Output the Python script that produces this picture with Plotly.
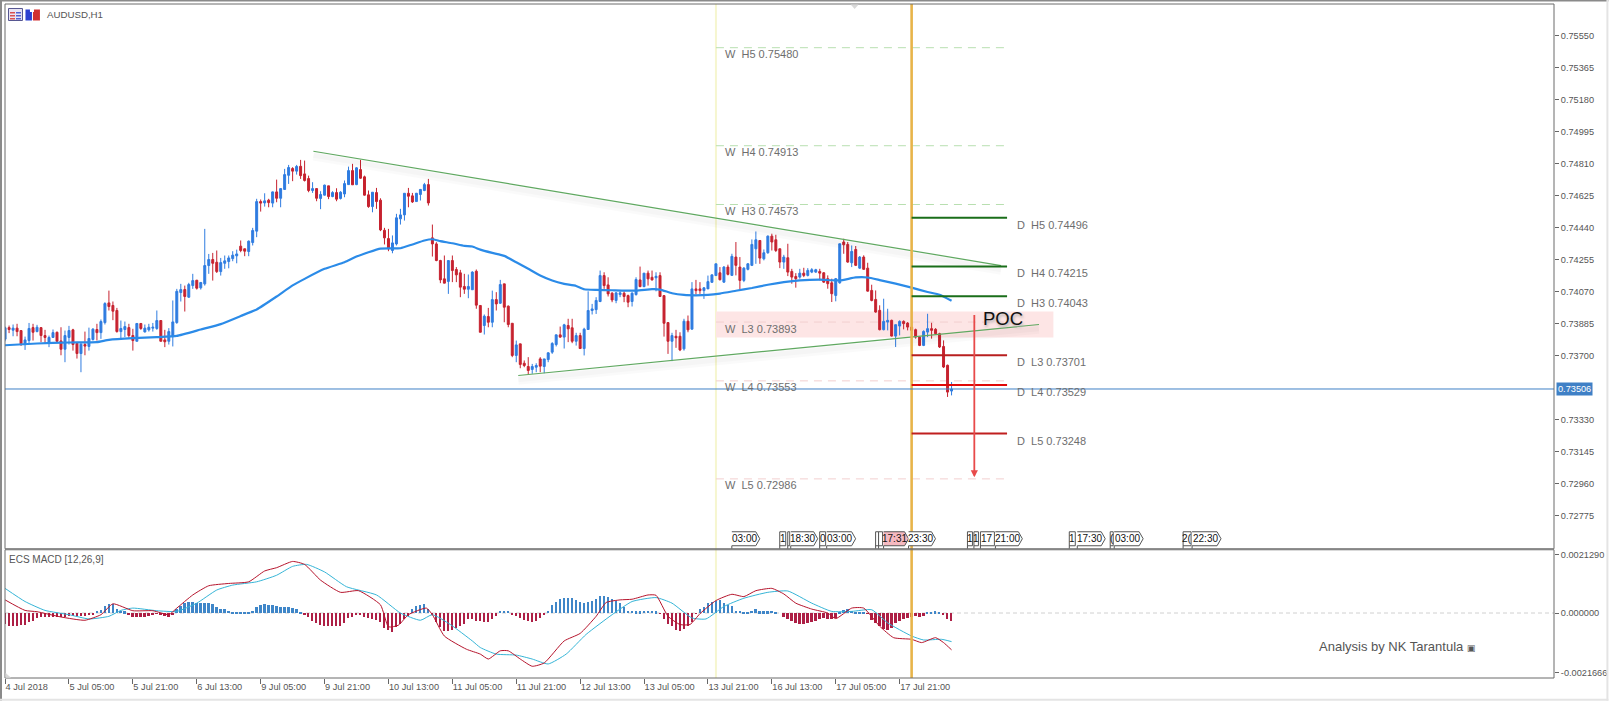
import plotly.graph_objects as go

W, H = 1611, 701
PL, PR, PT, PB = 5.0, 1556.5, 4.0, 678.3
SPLIT_A, SPLIT_B = 549.0, 550.0

tick_idx = [0, 16, 32, 48, 64, 80, 96, 112, 128, 144, 160, 176, 192, 208, 224]
tick_labels = ["4 Jul 2018", "5 Jul 05:00", "5 Jul 21:00", "6 Jul 13:00", "9 Jul 05:00", "9 Jul 21:00",
               "10 Jul 13:00", "11 Jul 05:00", "11 Jul 21:00", "12 Jul 13:00", "13 Jul 05:00",
               "13 Jul 21:00", "16 Jul 13:00", "17 Jul 05:00", "17 Jul 21:00"]
price_ticks = ["0.75550", "0.75365", "0.75180", "0.74995", "0.74810", "0.74625", "0.74440", "0.74255",
               "0.74070", "0.73885", "0.73700", "0.73330", "0.73145", "0.72960", "0.72775"]
last_price = 0.73506

direction = ("BRBRRBBRBR" "RBBRRBBRRB" "RBBRBBRRRB" "BRRBRBBBBR" "RBBBBRBBRB" "BBRRBBBBBR"
             "RBBBRBRBRB" "BBRBRRRBRB" "BRBRBBBRBR" "RRBRRRRBBB" "BRRBBBRRRR" "RBRRRRBBRR"
             "BRBRBRRRBR" "RRBBRBBBBR" "BRRBRBBBBB" "RRRBBRRBBR" "BRRBRRRBRR" "BRBRRBBBBR"
             "BRBRRBBBBR" "BBRRRBRRRB" "RBBBRRRRBB" "RRBRBRRRRR" "BBRBBRRRRR" "BBRRRRRB")
high_pts = [
73867,73873,73879,73883,73844,73809,73888,73883,73877,73861,
73848,73815,73850,73838,73863,73844,73871,73854,73777,73777,
73838,73861,73858,73883,73908,74008,74075,74012,73975,73902,
73896,73883,73854,73886,73886,73879,73883,73888,73960,73902,
73848,73858,74018,74085,74114,74104,74120,74172,74137,74125,
74432,74287,74293,74307,74264,74278,74278,74303,74312,74365,
74317,74365,74438,74606,74602,74638,74606,74648,74717,74667,
74779,74802,74789,74802,74831,74827,74740,74702,74667,74650,
74688,74681,74650,74667,74650,74712,74792,74808,74789,74831,
74740,74654,74644,74669,74609,74438,74432,74394,74519,74548,
74638,74669,74640,74640,74663,74698,74721,74457,74355,74253,
74278,74249,74278,74211,74195,74172,74168,74187,74197,73989,
73937,73975,74075,74066,74137,74114,73989,73886,73786,73767,
73671,73690,73651,73655,73690,73680,73719,73777,73821,73867,
73883,73912,73912,73831,73831,73860,74071,73998,74037,74191,
74181,74152,74066,74066,74071,74071,74052,74066,74152,74214,
74176,74191,74191,74181,74181,74046,73890,73831,73848,73834,
73912,73931,74124,74137,74124,74095,74162,74168,74230,74211,
74217,74225,74288,74356,74269,74211,74234,74371,74417,74365,
74313,74394,74404,74398,74317,74282,74346,74201,74176,74201,
74207,74205,74205,74201,74201,74182,74163,74144,74148,74346,
74375,74356,74336,74333,74275,74279,74236,74109,74076,73990,
74028,73970,73907,73878,73903,73903,73893,73903,73855,73810,
73845,73941,73889,73858,73831,73787,73647,73546]
body_top_pts = [
73860,73861,73858,73858,73844,73790,73856,73861,73863,73861,
73815,73804,73832,73834,73784,73815,73844,73848,73769,73765,
73763,73798,73852,73850,73896,74000,74004,73989,73960,73856,
73867,73861,73815,73885,73885,73858,73863,73863,73902,73902,
73790,73838,73894,74071,74081,74081,74110,74133,74135,74122,
74220,74255,74255,74239,74237,74247,74264,74280,74287,74332,
74317,74361,74423,74590,74590,74594,74598,74646,74646,74665,
74746,74787,74781,74793,74794,74750,74723,74665,74665,74631,
74685,74681,74642,74642,74644,74694,74769,74769,74785,74775,
74733,74629,74644,74642,74598,74424,74376,74351,74496,74513,
74638,74638,74623,74638,74660,74688,74688,74380,74345,74249,
74143,74249,74249,74197,74178,74099,74099,74182,74187,73989,
73927,73925,74023,74023,74110,74114,73985,73886,73761,73767,
73655,73636,73636,73642,73680,73680,73715,73769,73819,73819,
73877,73873,73860,73815,73815,73852,73960,73969,74018,74162,
74162,74108,74060,74062,74062,74060,74046,74060,74139,74137,
74176,74176,74152,74158,74162,74046,73890,73815,73811,73811,
73898,73898,74085,74085,74085,74091,74127,74166,74230,74178,
74211,74211,74273,74269,74211,74205,74230,74342,74369,74365,
74294,74390,74390,74369,74317,74269,74265,74186,74157,74176,
74176,74192,74196,74196,74186,74178,74144,74120,74144,74346,
74356,74342,74302,74313,74269,74269,74205,74076,74024,73961,
73897,73903,73903,73878,73897,73897,73887,73864,73849,73806,
73839,73855,73855,73851,73826,73752,73643,73506]
body_bot_pts = [
73794,73850,73846,73838,73767,73763,73786,73834,73838,73815,
73804,73775,73804,73782,73736,73736,73804,73763,73711,73711,
73754,73752,73792,73832,73832,73890,73983,73956,73838,73838,
73850,73815,73786,73782,73856,73836,73848,73858,73856,73782,
73779,73782,73809,73890,74064,74041,74037,74104,74089,74091,
74114,74220,74233,74185,74185,74233,74243,74260,74276,74307,
74303,74301,74353,74419,74581,74582,74584,74581,74609,74609,
74660,74742,74766,74766,74740,74712,74654,74654,74609,74608,
74627,74619,74619,74604,74608,74634,74688,74687,74688,74725,
74627,74561,74561,74590,74426,74380,74317,74307,74345,74490,
74513,74621,74588,74590,74631,74654,74582,74345,74249,74137,
74118,74128,74191,74166,74095,74083,74083,74080,73991,73834,
73873,73892,73892,73998,74002,73979,73879,73700,73700,73648,
73642,73613,73619,73632,73638,73636,73676,73719,73763,73806,
73806,73854,73782,73782,73740,73740,73850,73960,73965,74012,
74104,74056,74021,74018,74052,74041,74008,74012,74052,74098,
74098,74143,74137,74149,74041,73886,73782,73782,73802,73732,
73738,73848,73852,74075,74075,74075,74085,74123,74162,74138,
74124,74169,74163,74221,74134,74134,74198,74221,74317,74263,
74259,74294,74356,74307,74240,74240,74182,74153,74144,74153,
74163,74163,74182,74182,74176,74124,74115,74057,74047,74120,
74340,74240,74236,74221,74205,74198,74072,74018,73951,73849,
73849,73893,73812,73812,73870,73884,73864,73845,73806,73758,
73758,73835,73845,73826,73749,73633,73488,73494]
low_pts = [
73782,73829,73811,73811,73755,73732,73767,73786,73834,73777,
73771,73748,73804,73777,73701,73661,73763,73728,73682,73603,
73701,73728,73786,73786,73796,73879,73960,73904,73832,73796,
73806,73802,73728,73782,73848,73833,73838,73838,73848,73782,
73748,73763,73752,73883,74012,73954,74033,74085,74081,74081,
74104,74172,74133,74177,74162,74201,74204,74245,74233,74297,
74274,74274,74336,74384,74532,74561,74557,74557,74586,74557,
74658,74692,74708,74746,74721,74706,74644,74640,74592,74546,
74625,74604,74615,74592,74602,74615,74687,74687,74685,74721,
74625,74554,74528,74548,74419,74342,74303,74291,74336,74457,
74480,74557,74582,74590,74596,74650,74567,74272,74245,74118,
74118,74056,74124,74124,74037,74056,74031,74080,73970,73834,
73821,73863,73863,73960,73998,73892,73863,73690,73661,73626,
73632,73590,73594,73603,73603,73597,73661,73709,73752,73802,
73740,73777,73771,73757,73738,73700,73850,73937,73940,74008,
74085,74041,74008,74002,74037,74008,73979,73983,74046,74095,
74095,74104,74133,74071,74041,73809,73709,73667,73744,73725,
73728,73834,73850,74052,74056,74027,74085,74120,74162,74134,
74120,74163,74163,74163,74082,74124,74192,74217,74230,74230,
74250,74288,74307,74298,74205,74201,74159,74115,74092,74144,
74153,74157,74176,74178,74134,74120,74086,74009,74013,74115,
74288,74236,74211,74217,74201,74196,74070,74013,73947,73845,
73845,73845,73810,73749,73816,73851,73845,73806,73797,73754,
73754,73806,73797,73820,73743,73627,73460,73469]

ma_idx = [0,8,16,23,26,32,38,43,49,54,59,63,68,72,75,80,85,88,91,94,99,102,105,107,109,112,115,117,119,
          122,125,128,131,134,137,140,143,145,148,152,158,162,164,167,170,173,176,179,183,187,191,195,199,
          204,209,213,216,219,223,227,231,234,237]
ma_pts = [73759,73769,73775,73777,73790,73800,73806,73813,73850,73881,73928,73966,74041,74105,74143,74201,
          74239,74272,74297,74318,74320,74342,74365,74372,74361,74349,74334,74330,74312,
          74293,74276,74239,74201,74162,74133,74114,74102,74083,74079,74077,74075,74083,74081,74060,74050,
          74048,74050,74058,74074,74090,74109,74124,74134,74138,74134,74151,74151,74136,74115,74092,74067,
          74051,74016]

macd_hist = [
-380,-456,-456,-456,-432,-432,-336,-300,-180,-144,-144,-144,-144,-144,-144,-120,-96,-96,-96,-96,-96,-72,-48,
96,120,264,336,336,144,96,72,-36,-120,-120,-120,-120,-96,-72,-24,-72,-96,-120,-60,
144,264,360,396,396,360,360,360,360,336,240,168,144,96,60,36,24,24,36,96,240,312,336,312,288,264,240,216,216,192,144,36,
-36,-144,-264,-360,-432,-456,-456,-456,-456,-456,-360,-180,-144,-60,-72,-120,-180,-216,-240,-336,-540,-624,-696,-504,-384,-216,-96,
144,264,312,336,144,-72,-336,-504,-660,-660,-624,-540,-456,-384,-216,-216,-264,-300,-336,-336,-216,-96,
96,96,96,-36,-96,-156,-240,-300,-324,-300,-180,-36,96,312,420,504,552,576,540,480,420,384,420,456,504,624,648,600,504,456,360,240,
96,84,72,72,84,96,96,72,-24,-216,-384,-456,-600,-660,-576,-480,-336,-24,144,240,360,420,456,480,384,300,264,96,96,48,48,96,144,72,72,72,96,60,0,
-144,-216,-288,-360,-384,-408,-360,-312,-264,-216,-168,-192,-216,-180,48,120,168,96,48,24,24,-24,-240,-360,-480,-576,-600,-540,-360,-288,-216,-180,-120,-96,-120,-96,
24,48,72,36,-60,-216,-288]
macd_idx = [0,5,8,14,20,24,27,32,37,41,43,47,51,56,61,65,68,72,75,79,84,88.5,94,96,98.5,101,105.5,107,110,115.5,119,121,
            124,126,129,132,135,140,144,148,150.5,154,157,161,163,166,169,171.5,174,178,182,185,188,192,195,198,202,206,208,212,215,219,222.5,227,229.5,233,235,237]
macd_line = [480,96,48,-144,-264,-60,336,84,84,-60,180,660,996,1080,1140,1536,1656,1884,1776,1200,756,816,300,-504,-444,-60,180,-60,-840,-1320,-1500,-1680,
             -1380,-1380,-1680,-1944,-1824,-1020,-744,-120,384,480,504,660,648,-120,-420,-420,-24,456,684,600,816,900,696,360,144,0,-204,180,180,-480,-900,-960,-1080,-900,-1080,-1344]
signal_idx = [0,5,10,16,21,26,29,32,38,43,48,53,57,63,68,72,75.5,80,85.5,93,99,104,107,111.5,117,119,123,128,132,136,140.5,145.5,152,157,163,167,172,175.5,180,185,191,196,202,207,212,217,221,227,230,234.5,237]
signal_line = [900,420,96,-60,-216,-120,96,180,84,60,360,840,1020,1140,1380,1704,1776,1500,960,660,0,-264,-60,-420,-1020,-1260,-1500,-1536,-1680,-1860,-1500,-780,-60,420,564,360,-180,-216,240,540,756,804,360,60,60,120,-360,-840,-984,-960,-1044]
macd_ticks = [0.002129, 0.0, -0.002166]
macd_tick_text = ["0.0021290", "0.000000", "-0.0021666"]

weekly_names = ["H5", "H4", "H3", "L3", "L4", "L5"]
weekly_levels = [0.75480, 0.74913, 0.74573, 0.73893, 0.73553, 0.72986]
daily_names = ["H5", "H4", "H3", "L3", "L4", "L5"]
daily_levels = [0.74496, 0.74215, 0.74043, 0.73701, 0.73529, 0.73248]
daily_colors = ["#1a6e1a", "#1a6e1a", "#1a6e1a", "#b81f1f", "#e00808", "#c01f1f"]

upper_trend_x, upper_trend_y = [77.2, 249.4], [0.74881, 0.74220]
lower_trend_x, lower_trend_y = [128.5, 258.9], [0.73584, 0.73879]
time_tags = [("03:00",733,761,1),("1",781,787,0),("",789,791,0),("18:30",792,819,1),("0",821,827,0),
             ("03:00",828,857,1),("",877,880,0),("",880,884,0),("17:31",885,910,1),("23:30",910,937,1),
             ("1",969,974,0),("1",975.5,980,0),("17",982,996,0),("21:00",997,1024,1),
             ("1",1071,1077,0),("17:30",1079,1107,1),("(",1112,1115,0),("03:00",1116,1145,1),
             ("2(",1185,1193,0),("22:30",1194,1223,1)]

FONT = "Liberation Sans"
BLUE, RED = "#2f7ce0", "#c6222f"
n = len(high_pts)
xs = list(range(n))
opens = [(b if d == "B" else t) / 1e5 for d, t, b in zip(direction, body_top_pts, body_bot_pts)]
closes = [(t if d == "B" else b) / 1e5 for d, t, b in zip(direction, body_top_pts, body_bot_pts)]

x0 = -0.02
x1 = x0 + (PR - PL) / 4
slope = 0.00185 / 32
Y_REF = 35.6
ytop = 0.7555 + (Y_REF - PT) * slope
ybot = 0.7555 - (SPLIT_A - Y_REF) * slope
mslope = 3.65e-5
mzero = 613.3
mtop = (mzero - SPLIT_B) * mslope
mbot = -(PB - mzero) * mslope
H_PLOT = PB - PT


def px(v):
    return (v - PL) / (PR - PL)


def py(v):
    return (PB - v) / H_PLOT


fig = go.Figure()
# trendline shadows and trendlines
for tx, ty in ((upper_trend_x, upper_trend_y), (lower_trend_x, lower_trend_y)):
    for wd, off in ((9, 0.00028), (5, 0.00024)):
        fig.add_trace(go.Scatter(x=tx, y=[v - off for v in ty], mode="lines", hoverinfo="skip",
                                 line=dict(color="rgba(0,0,0,0.018)", width=wd)))
    fig.add_trace(go.Scatter(x=tx, y=ty, mode="lines", hoverinfo="skip", line=dict(color="#5fa860", width=1.2)))
fig.add_trace(go.Candlestick(
    x=xs, open=opens, close=closes,
    high=[v / 1e5 for v in high_pts], low=[v / 1e5 for v in low_pts],
    increasing=dict(line=dict(color=BLUE, width=1), fillcolor=BLUE),
    decreasing=dict(line=dict(color=RED, width=1), fillcolor=RED),
    whiskerwidth=0))
fig.add_trace(go.Scatter(x=ma_idx, y=[v / 1e5 for v in ma_pts], mode="lines",
                         line=dict(color="#2b8be8", width=2.2, shape="spline", smoothing=0.4)))
fig.add_trace(go.Bar(x=xs, y=[v / 1e6 for v in macd_hist], xaxis="x2", yaxis="y2", width=0.45,
                     marker=dict(color=["#3f86c8" if v >= 0 else "#ad1f45" for v in macd_hist], line=dict(width=0))))
fig.add_trace(go.Scatter(x=signal_idx, y=[v / 1e6 for v in signal_line], xaxis="x2", yaxis="y2", mode="lines",
                         line=dict(color="#35b4d6", width=1, shape="spline", smoothing=0.5)))
fig.add_trace(go.Scatter(x=macd_idx, y=[v / 1e6 for v in macd_line], xaxis="x2", yaxis="y2", mode="lines",
                         line=dict(color="#b5142c", width=1, shape="spline", smoothing=0.5)))

shapes, annos = [], []
# POC zone
shapes.append(dict(type="rect", xref="x", yref="y", x0=178, x1=262.5, y0=0.73804, y1=0.73954,
                   fillcolor="#fde5e5", line=dict(width=0), layer="below"))
# vertical markers
for xv, col, wd in ((178, "#f6f6cf", 2), (227, "#e8b44a", 2.6)):
    shapes.append(dict(type="line", xref="x", yref="paper", x0=xv, x1=xv, y0=0, y1=1,
                       line=dict(color=col, width=wd), layer="below" if wd == 2 else "above"))
LABEL_FONT = dict(family=FONT, size=11, color="#6e6e6e")
# weekly levels
for nm, lv in zip(weekly_names, weekly_levels):
    col = "#b8dfb0" if nm[0] == "H" else "#f2cfcf"
    shapes.append(dict(type="line", xref="x", yref="y", x0=178, x1=250.9, y0=lv, y1=lv,
                       line=dict(color=col, width=1, dash="8px 6px"), layer="below"))
    annos.append(dict(xref="x", yref="y", x=179.7, y=lv, yshift=-6.5, xanchor="left", yanchor="middle", showarrow=False,
                      text=f"W\u00a0\u00a0{nm} {lv:.5f}", font=LABEL_FONT))
# daily levels
for nm, lv, col in zip(daily_names, daily_levels, daily_colors):
    shapes.append(dict(type="line", xref="x", yref="y", x0=227, x1=250.9, y0=lv, y1=lv,
                       line=dict(color=col, width=2)))
    annos.append(dict(xref="x", yref="y", x=252.9, y=lv, yshift=-7, xanchor="left", yanchor="middle", showarrow=False,
                      text=f"D\u00a0\u00a0{nm} {lv:.5f}", font=LABEL_FONT))
# last price
shapes.append(dict(type="line", xref="x", yref="y", x0=x0, x1=x1, y0=last_price, y1=last_price,
                   line=dict(color="#3f80c6", width=1)))
annos.append(dict(xref="paper", yref="y", x=1.0013, y=last_price, xanchor="left", yanchor="middle", showarrow=False,
                  text=f"{last_price:.5f}", bgcolor="#3f80c6", borderpad=1,
                  font=dict(family=FONT, size=9.2, color="white")))
# target arrow
annos.append(dict(xref="x", yref="y", axref="x", ayref="y", x=242.7, y=0.72995, ax=242.7, ay=0.73943,
                  showarrow=True, arrowcolor="#e84a4a", arrowwidth=1.8, arrowhead=2, arrowsize=0.8, text=""))
annos.append(dict(xref="paper", yref="paper", x=px(983), y=py(319), xanchor="left", yanchor="middle", showarrow=False,
                  text="POC", font=dict(family=FONT, size=18.5, color="#111", shadow="1px 2px 3px #aaa")))
annos.append(dict(xref="paper", yref="paper", x=px(45), y=py(14.5), xanchor="left", yanchor="middle", showarrow=False,
                  text="AUDUSD,H1", font=dict(family=FONT, size=9.7, color="#555")))
annos.append(dict(xref="paper", yref="paper", x=px(7.3), y=py(560), xanchor="left", yanchor="middle", showarrow=False,
                  text="ECS MACD [12,26,9]", font=dict(family=FONT, size=10, color="#555")))
annos.append(dict(xref="paper", yref="paper", x=px(1319), y=py(647), xanchor="left", yanchor="middle", showarrow=False,
                  text="Analysis by NK Tarantula <span style='font-size:9px'>\u25a3</span>",
                  font=dict(family=FONT, size=13, color="#555")))
# zero line of the MACD pane
shapes.append(dict(type="line", xref="x2", yref="y2", x0=x0, x1=x1, y0=0, y1=0,
                   line=dict(color="#d0d0d0", width=1, dash="4px 3px"), layer="below"))
# time tags
for lab, a, b, ar in time_tags:
    xa, xb = px(a), px(b)
    if ar:
        path = (f"M{xa},{py(532)} L{px(b-4)},{py(532)} L{xb},{py(539)} L{px(b-4)},{py(546)} "
                f"L{xa},{py(546)} L{xa},{py(549)}")
    else:
        path = f"M{xa},{py(549)} L{xa},{py(532)} L{xb},{py(532)} L{xb},{py(546)} L{xa},{py(546)}"
    fill = "#f6b9c0" if lab == "17:31" else "white"
    shapes.append(dict(type="path", xref="paper", yref="paper", path=path, fillcolor=fill,
                       line=dict(color="#555", width=1)))
    if lab:
        annos.append(dict(xref="paper", yref="paper", x=(xa + px(b - (3 if ar else 0))) / 2, y=py(539), xanchor="center",
                          yanchor="middle", showarrow=False, text=lab, font=dict(family=FONT, size=10, color="#111")))


def rp(a, b, c, d, fill, lw=0, lc="#555"):
    shapes.append(dict(type="rect", xref="paper", yref="paper", x0=px(a), x1=px(b), y0=py(d), y1=py(c),
                       fillcolor=fill, line=dict(color=lc, width=lw)))


# pane borders and window frame
rp(PL, PR, PT, SPLIT_A, "rgba(0,0,0,0)", 1, "#6a6a6a")
rp(PL, PR, SPLIT_B, PB, "rgba(0,0,0,0)", 1, "#6a6a6a")
rp(0, 2, 0, 701, "#8a8a8a")
rp(0, 1611, 0, 1.5, "#8a8a8a")
rp(1609, 1611, 0, 701, "#e4e4e4")
rp(0, 1611, 699, 701, "#e4e4e4")
# header icons
rp(8.5, 22.5, 8.5, 20.5, "#e8e4f4", 1, "#555590")
for yy in (12, 15, 18):
    rp(10, 15, yy, yy + 1.5, "#d85050")
    rp(16, 21, yy, yy + 1.5, "#5060d0")
rp(25.5, 32, 9.5, 20.5, "#2b3fd0")
rp(33, 40, 9.5, 20.5, "#d03030")
rp(30, 34, 8.5, 12, "white")
# small markers
shapes.append(dict(type="path", xref="paper", yref="paper", fillcolor="#d8d8d8", line=dict(width=0),
                   path=f"M{px(852)},{py(4.5)} L{px(860)},{py(4.5)} L{px(856)},{py(9)} Z"))
shapes.append(dict(type="path", xref="paper", yref="paper", fillcolor="#d8d8d8", line=dict(width=0),
                   path=f"M{px(5.5)},{py(678)} L{px(11)},{py(678)} L{px(5.5)},{py(673)} Z"))

axfont = dict(family=FONT, size=9.2, color="#555")
fig.update_layout(
    width=W, height=H, autosize=False, showlegend=False, paper_bgcolor="white", plot_bgcolor="white",
    margin=dict(l=PL, r=W - PR, t=PT, b=H - PB, pad=0), font=dict(family=FONT),
    bargap=0, hovermode=False, dragmode=False, shapes=shapes, annotations=annos,
    xaxis=dict(domain=[0, 1], range=[x0, x1], anchor="y", showgrid=False, zeroline=False,
               showticklabels=False, ticks="", rangeslider=dict(visible=False)),
    yaxis=dict(domain=[py(SPLIT_A), 1], range=[ybot, ytop], side="right", showgrid=False, zeroline=False,
               tickvals=[float(t) for t in price_ticks], ticktext=price_ticks, ticks="outside", ticklen=4,
               tickcolor="#666", tickwidth=1, tickfont=axfont, showline=False),
    xaxis2=dict(domain=[0, 1], range=[x0, x1], anchor="y2", showgrid=False, zeroline=False,
                tickvals=tick_idx, ticktext=tick_labels, ticks="outside", ticklen=5, tickcolor="#666",
                tickfont=axfont, ticklabelposition="outside right"),
    yaxis2=dict(domain=[0, py(SPLIT_B)], range=[mbot, mtop], side="right", anchor="x2", showgrid=False, zeroline=False,
                tickvals=macd_ticks, ticktext=macd_tick_text, ticks="outside", ticklen=4, tickcolor="#666",
                tickfont=axfont),
)
fig.write_html("out.html", config={"displayModeBar": False},
               post_script="document.body.style.margin='0';document.body.style.overflow='hidden';")
